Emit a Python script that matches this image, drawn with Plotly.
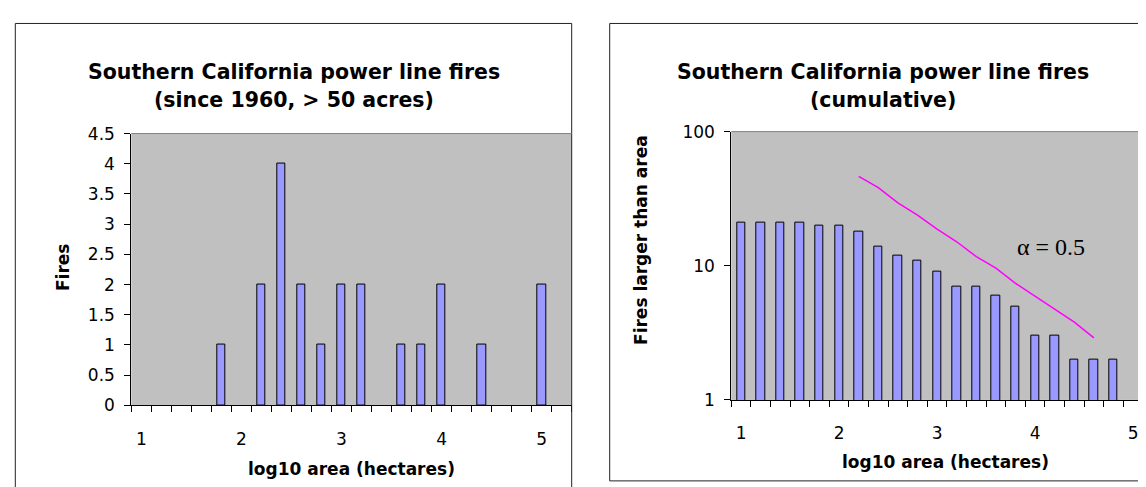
import plotly.graph_objects as go

# ---------------- data ----------------
area_bins = [1.0, 1.2, 1.4, 1.6, 1.8, 2.0, 2.2, 2.4, 2.6, 2.8, 3.0,
             3.2, 3.4, 3.6, 3.8, 4.0, 4.2, 4.4, 4.6, 4.8, 5.0, 5.2]
fires = [0, 0, 0, 0, 1, 0, 2, 4, 2, 1, 2, 2, 0, 1, 1, 2, 0, 1, 0, 0, 2, 0]

cum_bins = [1.0, 1.2, 1.4, 1.6, 1.8, 2.0, 2.2, 2.4, 2.6, 2.8,
            3.0, 3.2, 3.4, 3.6, 3.8, 4.0, 4.2, 4.4, 4.6, 4.8]
fires_larger = [21, 21, 21, 21, 20, 20, 18, 14, 12, 11,
                9, 7, 7, 6, 5, 3, 3, 2, 2, 2]

fit_x = [2.2, 2.4, 2.6, 2.8, 3.0, 3.2, 3.4, 3.6, 3.8, 4.0, 4.2, 4.4, 4.6]
fit_y = [46.4, 38.3, 29.4, 23.9, 18.8, 15.1, 11.7, 9.6, 7.4, 5.9, 4.7, 3.8, 2.9]

x_labels = [1, 2, 3, 4, 5]
left_yticks = [0, 0.5, 1, 1.5, 2, 2.5, 3, 3.5, 4, 4.5]
right_yticks = [1, 10, 100]

# ---------------- layout constants ----------------
W, H = 1146, 487
FONT = "DejaVu Sans"
BAR_FILL = "#9999FF"
PLOT_BG = "#C0C0C0"
step = area_bins[1] - area_bins[0]
bar_w = step * 0.42
boundaries = [round(b - step / 2, 3) for b in area_bins] + [round(area_bins[-1] + step / 2, 3)]

def px(x):
    return x / W

def py(y):
    return (H - y) / H

fig = go.Figure()

fig.add_trace(go.Bar(
    x=area_bins, y=fires, width=bar_w,
    marker=dict(color=BAR_FILL,
                line=dict(color="black", width=[1 if v > 0 else 0 for v in fires])),
    xaxis="x", yaxis="y", showlegend=False, hoverinfo="x+y"))

fig.add_trace(go.Bar(
    x=cum_bins, y=fires_larger, width=bar_w,
    marker=dict(color=BAR_FILL, line=dict(color="black", width=1)),
    xaxis="x2", yaxis="y2", showlegend=False, hoverinfo="x+y"))

fig.add_trace(go.Scatter(
    x=fit_x, y=fit_y, mode="lines",
    line=dict(color="#FF00FF", width=1.5),
    xaxis="x2", yaxis="y2", showlegend=False, hoverinfo="skip"))

tickfont = dict(family=FONT, size=17, color="black")

common_x = dict(
    tickmode="array", tickvals=x_labels, ticktext=[str(v) for v in x_labels],
    ticks="", showgrid=False, zeroline=False,
    showline=True, linecolor="black", linewidth=1,
    tickfont=tickfont, ticklabelstandoff=18,
    minor=dict(tickmode="array", tickvals=boundaries, ticks="outside",
               ticklen=6, tickcolor="black", tickwidth=1, showgrid=False),
)

fig.update_layout(
    width=W, height=H,
    margin=dict(l=0, r=0, t=0, b=0),
    paper_bgcolor="white",
    plot_bgcolor=PLOT_BG,
    bargap=0,
    xaxis=dict(common_x, domain=[px(123.3), px(563.7)],
               range=[boundaries[0], boundaries[-1]], anchor="y"),
    yaxis=dict(domain=[py(404), py(120.5)], range=[0, 4.5],
               tickmode="array", tickvals=left_yticks,
               ticks="outside", ticklen=6, tickcolor="black",
               showgrid=False, zeroline=False,
               showline=True, linecolor="black", linewidth=1,
               tickfont=tickfont, ticklabelstandoff=6, anchor="x"),
    xaxis2=dict(common_x, domain=[px(723.3), 1.0],
                range=[boundaries[0], boundaries[0] + (1146 - 723.3) / 19.6 * step],
                anchor="y2"),
    yaxis2=dict(domain=[py(398.3), py(118.5)], type="log", range=[0, 2],
                tickmode="array", tickvals=right_yticks,
                ticktext=[str(v) for v in right_yticks],
                ticks="outside", ticklen=6, tickcolor="black",
                showgrid=False, zeroline=False,
                showline=True, linecolor="black", linewidth=1,
                tickfont=tickfont, ticklabelstandoff=6, anchor="x2"),
)

# chart-area boxes and plot-area top borders
shapes = [
    dict(type="rect", xref="paper", yref="paper",
         x0=px(7.3), x1=px(563.7), y0=-0.05, y1=py(5.7),
         line=dict(color="#222222", width=1), fillcolor="rgba(0,0,0,0)", layer="above"),
    dict(type="rect", xref="paper", yref="paper",
         x0=px(601.7), x1=1.05, y0=py(482.7), y1=py(5.7),
         line=dict(color="#222222", width=1), fillcolor="rgba(0,0,0,0)", layer="above"),
    dict(type="line", xref="x domain", yref="y domain", x0=0, x1=1, y0=1, y1=1,
         line=dict(color="#808080", width=1)),
    dict(type="line", xref="x2 domain", yref="y2 domain", x0=0, x1=1, y0=1, y1=1,
         line=dict(color="#808080", width=1)),
]
fig.update_layout(shapes=shapes)

title_font = dict(family=FONT, size=20.5, color="black")
axis_title_font = dict(family=FONT, size=17, color="black")

annotations = [
    dict(text="<b>Southern California power line fires</b>", x=px(285.5), y=py(56.7)),
    dict(text="<b>(since 1960, > 50 acres)</b>", x=px(285.5), y=py(86)),
    dict(text="<b>Southern California power line fires</b>", x=px(874.6), y=py(56)),
    dict(text="<b>(cumulative)</b>", x=px(874.6), y=py(85)),
]
for a in annotations:
    a.update(xref="paper", yref="paper", showarrow=False, font=title_font,
             xanchor="center", yanchor="middle")

annotations += [
    dict(text="<b>log10 area (hectares)</b>", x=px(343.8), y=py(470.7)),
    dict(text="<b>log10 area (hectares)</b>", x=px(937.5), y=py(463)),
    dict(text="<b>Fires</b>", x=px(55), y=py(260.7), textangle=-90),
    dict(text="<b>Fires larger than area</b>", x=px(633.5), y=py(232), textangle=-90),
]
for a in annotations[4:]:
    a.update(xref="paper", yref="paper", showarrow=False, font=axis_title_font,
             xanchor="center", yanchor="middle")

annotations.append(dict(text="α = 0.5", x=px(1042.5), y=py(239.3), xref="paper", yref="paper",
                        showarrow=False, xanchor="center", yanchor="middle",
                        font=dict(family="Liberation Serif", size=24, color="black")))

fig.update_layout(annotations=annotations)

fig.write_html("out.html")
